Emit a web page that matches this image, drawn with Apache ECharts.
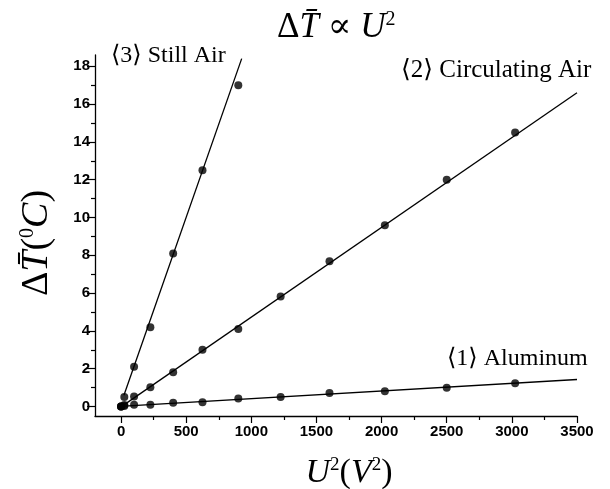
<!DOCTYPE html>
<html>
<head>
<meta charset="utf-8">
<script src="https://cdn.jsdelivr.net/npm/echarts@6/dist/echarts.min.js"></script>
<style>
  html, body { margin: 0; padding: 0; background: #fff; }
  #main { width: 610px; height: 489px; }
</style>
</head>
<body>
<div id="main"></div>
<script>
// U^2 values (V^2)
var uSq = [0, 25, 100, 225, 400, 625, 900, 1225, 1600, 2025, 2500, 3025];
// measured temperature rise
var stillAir = [0, 0.5, 2.1, 4.2, 8.1, 12.5, 17.0];
var circAir = [0, 0.08, 0.53, 1.02, 1.81, 3.0, 4.1, 5.82, 7.69, 9.59, 12.0, 14.5];
var aluminum = [0, 0.03, 0.09, 0.1, 0.2, 0.23, 0.42, 0.51, 0.72, 0.81, 1.0, 1.23];
// fitted straight lines (endpoints)
var fitStill = [[22, 0.6], [926, 18.41]];
var fitCirc = [[25, 0.1], [3500, 16.6]];
var fitAlu = [[25, 0.02], [3500, 1.43]];
// tick positions
var xMajor = [0, 500, 1000, 1500, 2000, 2500, 3000, 3500];
var xMinor = [250, 750, 1250, 1750, 2250, 2750, 3250];
var yMajor = [0, 2, 4, 6, 8, 10, 12, 14, 16, 18];
var yMinor = [1, 3, 5, 7, 9, 11, 13, 15, 17];

function pairs(xs, ys) {
  var out = [];
  for (var i = 0; i < ys.length; i++) out.push([xs[i], ys[i]]);
  return out;
}

var myChart = echarts.init(document.getElementById('main'));

var serif = '"Liberation Serif", "DejaVu Serif", serif';
var tickFont = { fontFamily: '"Liberation Sans", Arial, sans-serif', fontWeight: 'bold', fontSize: 15, color: '#000' };
var plain = function (v) { return String(v); };

function pointSeries(data) {
  return {
    type: 'scatter',
    data: data,
    symbol: 'circle',
    symbolSize: 8,
    itemStyle: { color: '#000' },
    z: 3
  };
}
function fitSeries(data) {
  return {
    type: 'line',
    data: data,
    showSymbol: false,
    symbol: 'none',
    lineStyle: { color: '#000', width: 1.3 },
    z: 2
  };
}

var option = {
  animation: false,
  backgroundColor: '#fff',
  grid: { left: 95, right: 33, top: 55, bottom: 73, outerBoundsMode: 'none', containLabel: false },
  xAxis: [{
    type: 'value',
    position: 'bottom',
    min: -200,
    max: 3500,
    splitLine: { show: false },
    axisLine: { onZero: false, lineStyle: { color: '#000', width: 1.3 } },
    axisTick: { length: 7, lineStyle: { color: '#000', width: 1.2 }, customValues: xMajor },
    axisLabel: { customValues: xMajor, margin: 8, formatter: plain, ...tickFont },
    name: '{i|U}{s|2}{a|(}{i|V}{s|2}{a|)}',
    nameLocation: 'middle',
    nameGap: 40,
    nameTextStyle: {
      padding: [0, 0, 0, 26],
      rich: {
        i: { fontFamily: serif, fontStyle: 'italic', fontSize: 34, color: '#000' },
        a: { fontFamily: serif, fontSize: 34, color: '#000' },
        s: { fontFamily: serif, fontSize: 19, color: '#000', verticalAlign: 'top', padding: [0, 0, 15, 0] }
      }
    }
  }, {
    type: 'value',
    position: 'bottom',
    min: -200,
    max: 3500,
    splitLine: { show: false },
    axisLine: { show: false, onZero: false },
    axisTick: { length: 4, lineStyle: { color: '#000', width: 1.2 }, customValues: xMinor },
    axisLabel: { show: false }
  }],
  yAxis: [{
    type: 'value',
    position: 'left',
    min: -0.5,
    max: 18.6,
    splitLine: { show: false },
    axisLine: { show: true, onZero: false, lineStyle: { color: '#000', width: 1.3 } },
    axisTick: { show: true, length: 8, lineStyle: { color: '#000', width: 1.2 }, customValues: yMajor },
    axisLabel: { customValues: yMajor, margin: 5, formatter: plain, ...tickFont },
    name: '{a|Δ}{i|T̄}{a|(}{s|0}{i|C}{a|)}',
    nameLocation: 'middle',
    nameGap: 39,
    nameRotate: 90,
    nameTextStyle: {
      padding: [0, 0, 0, -15],
      rich: {
        i: { fontFamily: serif, fontStyle: 'italic', fontSize: 38, color: '#000' },
        a: { fontFamily: serif, fontSize: 38, color: '#000' },
        s: { fontFamily: serif, fontSize: 20, color: '#000', verticalAlign: 'top', padding: [0, 0, 16, 0] }
      }
    }
  }, {
    type: 'value',
    position: 'left',
    min: -0.5,
    max: 18.6,
    splitLine: { show: false },
    axisLine: { show: false, onZero: false },
    axisTick: { show: true, length: 4, lineStyle: { color: '#000', width: 1.2 }, customValues: yMinor },
    axisLabel: { show: false }
  }],
  graphic: [
    {
      type: 'text', left: 277, top: 10,
      style: {
        text: '{a|Δ}{i|T̄}{a| ∝ }{i|U}{s|2}',
        rich: {
          a: { fontFamily: serif, fontSize: 35, fill: '#000' },
          i: { fontFamily: serif, fontStyle: 'italic', fontSize: 35, fill: '#000' },
          s: { fontFamily: serif, fontSize: 20, fill: '#000', verticalAlign: 'top', padding: [0, 0, 15, 0] }
        }
      }
    },
    { type: 'text', left: 111, top: 44, style: { text: '⟨3⟩ Still Air', font: '24px ' + serif, fill: '#000' } },
    { type: 'text', left: 401, top: 58, style: { text: '⟨2⟩ Circulating Air', font: '25px ' + serif, fill: '#000' } },
    { type: 'text', left: 447, top: 347, style: { text: '⟨1⟩ Aluminum', font: '24px ' + serif, fill: '#000' } }
  ],
  series: [
    fitSeries(fitStill),
    fitSeries(fitCirc),
    fitSeries(fitAlu),
    pointSeries(pairs(uSq, stillAir)),
    pointSeries(pairs(uSq, circAir)),
    pointSeries(pairs(uSq, aluminum))
  ]
};

myChart.setOption(option);
</script>
</body>
</html>
